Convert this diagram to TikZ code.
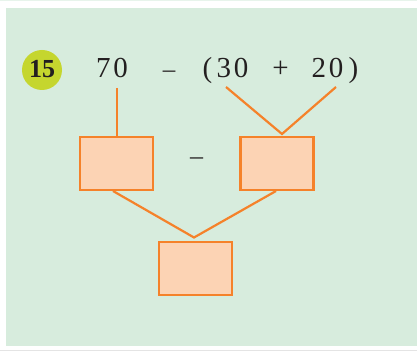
\documentclass[tikz,border=0pt]{standalone}
\usepackage{fontspec}
\setmainfont{Liberation Serif}
\definecolor{bggreen}{HTML}{D7ECDD}
\definecolor{boxfill}{HTML}{FCD3B4}
\definecolor{boxline}{HTML}{F5822A}
\definecolor{badge}{HTML}{C5D62E}
\definecolor{ink}{HTML}{231F20}
\definecolor{edge}{HTML}{E4E4E4}
\begin{document}
\begin{tikzpicture}[x=1pt,y=-1pt,
  answerbox/.style={draw=boxline,fill=boxfill,line width=2.4pt,minimum width=73pt,minimum height=53pt,inner sep=0pt},
  link/.style={draw=boxline,line width=2.2pt},
  term/.style={font=\fontsize{29}{29}\selectfont,text=ink,inner sep=0pt,anchor=base},
  opsign/.style={font=\fontsize{25}{25}\selectfont,text=ink,inner sep=0pt,anchor=base}]
\useasboundingbox (0,0) rectangle (417,352);
\fill[white] (0,0) rectangle (417,352);
\fill[bggreen!60] (0,0) rectangle (417,1);
\fill[bggreen] (6,8) rectangle (417,346);
\fill[edge] (0,349.5) rectangle (417,351);
% badge
\node[circle,fill=badge,minimum size=40pt,inner sep=0pt] (badge) at (42,70) {};
\node[font=\bfseries\fontsize{26}{26}\selectfont,text=ink,inner sep=0pt,anchor=base] (num) at (42,78) {15};
% expression
\node[term] (n70) at (112,78) {7\kern3pt 0};
\node[opsign] (m1) at (169,78) {–};
\node[term] (lp) at (207.5,78) {(};
\node[term] (n30) at (232.5,78) {3\kern3pt 0};
\node[term] (pl) at (280.5,78) {+};
\node[term] (n20) at (327.5,78) {2\kern3pt 0};
\node[term] (rp) at (353.5,78) {)};
% boxes
\node[answerbox] (b1) at (116.5,163.5) {};
\node[answerbox] (b2) at (277,163.5) {};
\node[answerbox] (b3) at (195.5,268.5) {};
\node[font=\fontsize{26}{26}\selectfont,text=ink,inner sep=0pt] (m2) at (196.5,161) {–};
% connectors
\coordinate (top1) at (117,88);
\coordinate (top2) at (226,87);
\coordinate (top3) at (336,87);
\coordinate (apexA) at (282,134);
\coordinate (apexB) at (194,237.5);
\coordinate (b1s) at (113,191);
\coordinate (b2s) at (276,191);
\draw[link] (top1) -- (b1.north -| top1);
\draw[link] (top2) -- (apexA) -- (top3);
\draw[link] (b1s) -- (apexB) -- (b2s);
\end{tikzpicture}
\end{document}
